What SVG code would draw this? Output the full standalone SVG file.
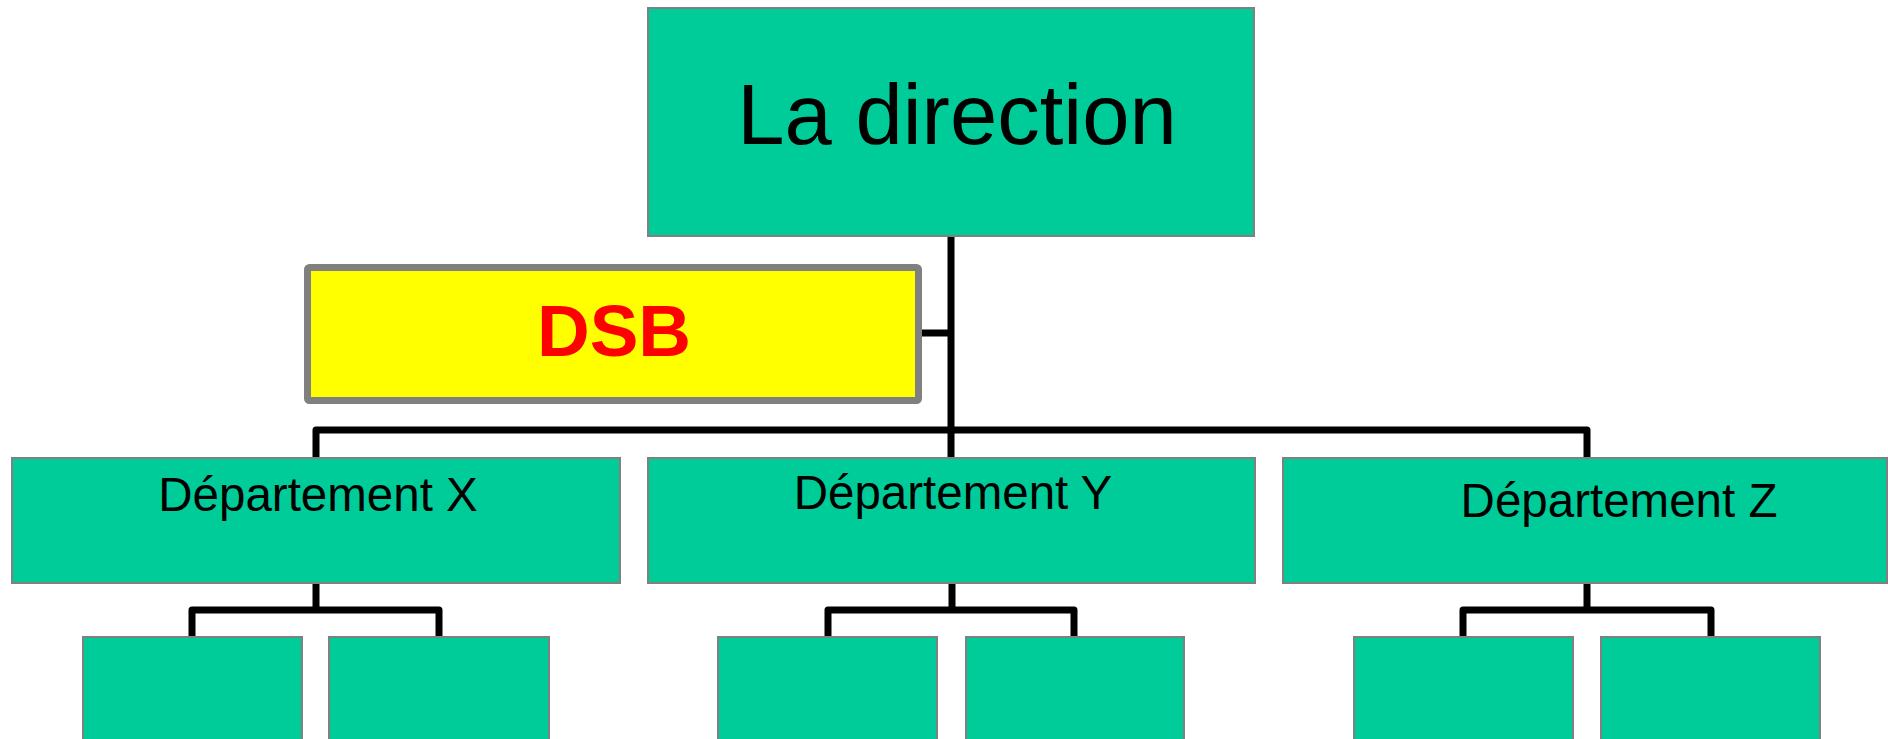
<svg xmlns="http://www.w3.org/2000/svg" width="1888" height="739" viewBox="0 0 1888 739">
<style>
.box{fill:#00CC99;stroke:#808080;stroke-width:2}
.dsb{fill:#FFFF00;stroke:#808080;stroke-width:7;stroke-linejoin:round}
.ln{fill:none;stroke:#000;stroke-width:7;stroke-linejoin:round}
.t{font-family:"Liberation Sans",Arial,sans-serif;fill:#000;text-anchor:middle}
</style>
<rect width="1888" height="739" fill="#fff"/>
<g id="connectors">
<path class="ln" d="M951 236 V458"/>
<path class="ln" d="M922 333 H951"/>
<path class="ln" d="M316 458 V430 H1587 V458"/>
<path class="ln" d="M316 583 V610"/>
<path class="ln" d="M192 637 V610 H439 V637"/>
<path class="ln" d="M952 583 V610"/>
<path class="ln" d="M828 637 V610 H1074 V637"/>
<path class="ln" d="M1587 583 V610"/>
<path class="ln" d="M1463 637 V610 H1711 V637"/>
</g>
<g id="direction">
<rect class="box" x="648" y="8" width="606" height="228"/>
<text class="t" x="957" y="144" font-size="85">La direction</text>
</g>
<g id="dsb">
<rect class="dsb" x="307.5" y="267.5" width="611" height="133" rx="2"/>
<text class="t" x="614" y="356" font-size="73" font-weight="bold" style="fill:#FF0000">DSB</text>
</g>
<g id="dept-x">
<rect class="box" x="12" y="458" width="608" height="125"/>
<text class="t" x="318" y="511" font-size="47.5">Département X</text>
</g>
<g id="dept-y">
<rect class="box" x="648" y="458" width="607" height="125"/>
<text class="t" x="953" y="509" font-size="47.5">Département Y</text>
</g>
<g id="dept-z">
<rect class="box" x="1283" y="458" width="604" height="125"/>
<text class="t" x="1619" y="517" font-size="47.5">Département Z</text>
</g>
<g id="x1"><rect class="box" x="83" y="637" width="219" height="110"/></g>
<g id="x2"><rect class="box" x="329" y="637" width="220" height="110"/></g>
<g id="y1"><rect class="box" x="718" y="637" width="219" height="110"/></g>
<g id="y2"><rect class="box" x="966" y="637" width="218" height="110"/></g>
<g id="z1"><rect class="box" x="1354" y="637" width="219" height="110"/></g>
<g id="z2"><rect class="box" x="1601" y="637" width="219" height="110"/></g>
</svg>
